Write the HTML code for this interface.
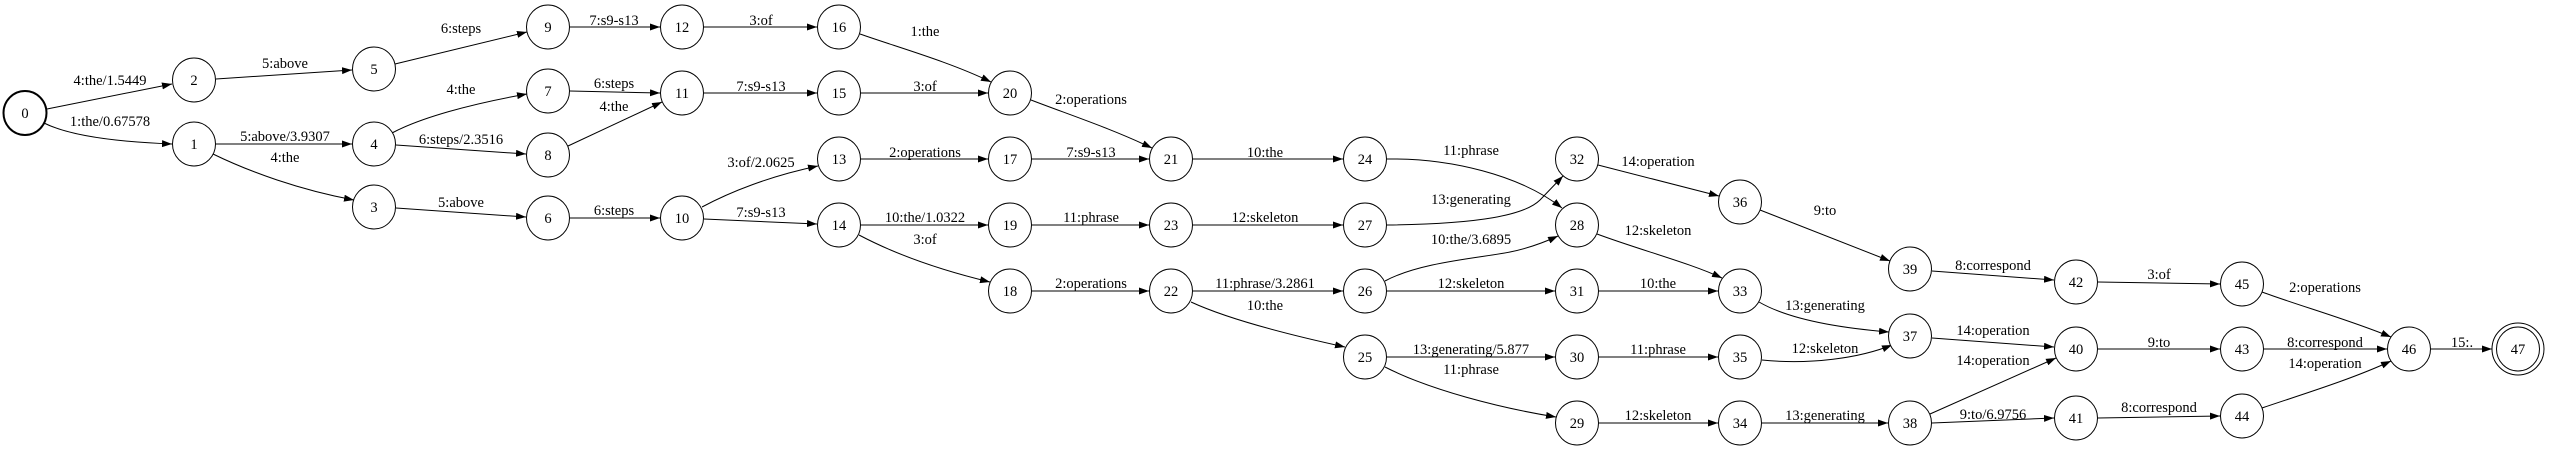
<!DOCTYPE html>
<html><head><meta charset="utf-8"><style>
html,body{margin:0;padding:0;background:#fff;}
svg{display:block;}
text{font-family:"Liberation Serif",serif;font-size:14.5px;fill:#000;}
.n text{text-anchor:middle;}
.l{text-anchor:middle;}
</style></head><body>
<svg width="2550" height="450" viewBox="0 0 2550 450" xmlns="http://www.w3.org/2000/svg">
<defs><marker id="a" markerUnits="userSpaceOnUse" markerWidth="11" markerHeight="8" refX="10" refY="3.5" orient="auto"><path d="M0,0 L10,3.5 L0,7 z" fill="#000"/></marker></defs>
<g fill="none" stroke="#000" stroke-width="1" marker-end="url(#a)">
<path d="M47,109 L172,84"/>
<path d="M44,123 C70,136 120,142 172,144"/>
<path d="M216,79 L352,70"/>
<path d="M216,144 L352,144"/>
<path d="M213,154 C250,172 300,190 354,200"/>
<path d="M395,64 L527,32"/>
<path d="M392,133 C420,118 470,104 527,94"/>
<path d="M396,145 L526,154"/>
<path d="M396,208 L526,217"/>
<path d="M570,27 L660,27"/>
<path d="M570,91 L660,93"/>
<path d="M568,146 L662,102"/>
<path d="M570,218 L660,218"/>
<path d="M704,27 L817,27"/>
<path d="M704,93 L817,93"/>
<path d="M860,34 C900,48 950,62 991,82"/>
<path d="M861,93 L988,93"/>
<path d="M1031,100 C1070,115 1110,128 1152,148"/>
<path d="M702,207 C730,192 770,176 818,166"/>
<path d="M704,219 L817,224"/>
<path d="M861,159 L988,159"/>
<path d="M1032,159 L1149,159"/>
<path d="M861,225 L988,225"/>
<path d="M859,235 C895,254 940,270 990,282"/>
<path d="M1032,225 L1149,225"/>
<path d="M1032,291 L1149,291"/>
<path d="M1193,159 L1343,159"/>
<path d="M1193,225 L1343,225"/>
<path d="M1193,291 L1343,291"/>
<path d="M1191,302 C1230,320 1290,335 1345,347"/>
<path d="M1387,159 C1450,158 1520,175 1562,208"/>
<path d="M1387,225 C1480,224 1525,215 1540,200 L1563,176"/>
<path d="M1385,281 C1420,262 1480,258 1510,252 C1530,248 1545,242 1558,236"/>
<path d="M1387,291 L1555,291"/>
<path d="M1387,357 L1555,357"/>
<path d="M1385,367 C1430,390 1500,408 1556,417"/>
<path d="M1598,165 L1719,196"/>
<path d="M1597,234 C1640,250 1690,263 1722,278"/>
<path d="M1599,291 L1718,291"/>
<path d="M1599,357 L1718,357"/>
<path d="M1599,423 L1718,423"/>
<path d="M1760,210 L1890,261"/>
<path d="M1759,302 C1790,320 1840,328 1889,332"/>
<path d="M1762,360 C1810,365 1860,358 1892,345"/>
<path d="M1762,423 L1888,423"/>
<path d="M1932,271 L2054,280"/>
<path d="M1932,338 L2054,347"/>
<path d="M1930,414 L2056,358"/>
<path d="M1932,423 L2054,418"/>
<path d="M2098,282 L2220,284"/>
<path d="M2098,349 L2220,349"/>
<path d="M2098,418 L2220,416"/>
<path d="M2262,292 C2300,306 2350,320 2391,337"/>
<path d="M2264,349 L2387,349"/>
<path d="M2262,408 C2300,395 2350,380 2391,361"/>
<path d="M2431,349 L2492,349"/>
</g>
<g class="lbls">
<text class="l" x="110" y="85">4:the/1.5449</text>
<text class="l" x="110" y="126">1:the/0.67578</text>
<text class="l" x="285" y="68">5:above</text>
<text class="l" x="285" y="141">5:above/3.9307</text>
<text class="l" x="285" y="162">4:the</text>
<text class="l" x="461" y="33">6:steps</text>
<text class="l" x="461" y="94">4:the</text>
<text class="l" x="461" y="144">6:steps/2.3516</text>
<text class="l" x="461" y="207">5:above</text>
<text class="l" x="614" y="25">7:s9-s13</text>
<text class="l" x="614" y="88">6:steps</text>
<text class="l" x="614" y="111">4:the</text>
<text class="l" x="614" y="215">6:steps</text>
<text class="l" x="761" y="25">3:of</text>
<text class="l" x="925" y="36">1:the</text>
<text class="l" x="761" y="91">7:s9-s13</text>
<text class="l" x="925" y="91">3:of</text>
<text class="l" x="1091" y="104">2:operations</text>
<text class="l" x="761" y="167">3:of/2.0625</text>
<text class="l" x="925" y="157">2:operations</text>
<text class="l" x="1091" y="157">7:s9-s13</text>
<text class="l" x="761" y="217">7:s9-s13</text>
<text class="l" x="925" y="222">10:the/1.0322</text>
<text class="l" x="925" y="244">3:of</text>
<text class="l" x="1091" y="222">11:phrase</text>
<text class="l" x="1091" y="288">2:operations</text>
<text class="l" x="1265" y="157">10:the</text>
<text class="l" x="1265" y="222">12:skeleton</text>
<text class="l" x="1265" y="288">11:phrase/3.2861</text>
<text class="l" x="1265" y="310">10:the</text>
<text class="l" x="1471" y="155">11:phrase</text>
<text class="l" x="1471" y="204">13:generating</text>
<text class="l" x="1471" y="244">10:the/3.6895</text>
<text class="l" x="1471" y="288">12:skeleton</text>
<text class="l" x="1471" y="354">13:generating/5.877</text>
<text class="l" x="1471" y="374">11:phrase</text>
<text class="l" x="1658" y="166">14:operation</text>
<text class="l" x="1658" y="235">12:skeleton</text>
<text class="l" x="1658" y="288">10:the</text>
<text class="l" x="1658" y="354">11:phrase</text>
<text class="l" x="1658" y="420">12:skeleton</text>
<text class="l" x="1825" y="215">9:to</text>
<text class="l" x="1825" y="310">13:generating</text>
<text class="l" x="1825" y="353">12:skeleton</text>
<text class="l" x="1825" y="420">13:generating</text>
<text class="l" x="1993" y="270">8:correspond</text>
<text class="l" x="1993" y="335">14:operation</text>
<text class="l" x="1993" y="365">14:operation</text>
<text class="l" x="1993" y="419">9:to/6.9756</text>
<text class="l" x="2159" y="279">3:of</text>
<text class="l" x="2159" y="347">9:to</text>
<text class="l" x="2159" y="412">8:correspond</text>
<text class="l" x="2325" y="292">2:operations</text>
<text class="l" x="2325" y="347">8:correspond</text>
<text class="l" x="2325" y="368">14:operation</text>
<text class="l" x="2462" y="347">15:.</text>
</g>
<g class="n" fill="#fff" stroke="#000">
<ellipse cx="25" cy="113" rx="21.5" ry="22" stroke-width="2"/>
<ellipse cx="194" cy="80" rx="21.5" ry="22"/>
<ellipse cx="194" cy="144" rx="21.5" ry="22"/>
<ellipse cx="374" cy="69" rx="21.5" ry="22"/>
<ellipse cx="374" cy="144" rx="21.5" ry="22"/>
<ellipse cx="374" cy="207" rx="21.5" ry="22"/>
<ellipse cx="548" cy="27" rx="21.5" ry="22"/>
<ellipse cx="548" cy="91" rx="21.5" ry="22"/>
<ellipse cx="548" cy="155" rx="21.5" ry="22"/>
<ellipse cx="548" cy="218" rx="21.5" ry="22"/>
<ellipse cx="682" cy="27" rx="21.5" ry="22"/>
<ellipse cx="839" cy="27" rx="21.5" ry="22"/>
<ellipse cx="682" cy="93" rx="21.5" ry="22"/>
<ellipse cx="839" cy="93" rx="21.5" ry="22"/>
<ellipse cx="1010" cy="93" rx="21.5" ry="22"/>
<ellipse cx="839" cy="159" rx="21.5" ry="22"/>
<ellipse cx="1010" cy="159" rx="21.5" ry="22"/>
<ellipse cx="1171" cy="159" rx="21.5" ry="22"/>
<ellipse cx="682" cy="218" rx="21.5" ry="22"/>
<ellipse cx="839" cy="225" rx="21.5" ry="22"/>
<ellipse cx="1010" cy="225" rx="21.5" ry="22"/>
<ellipse cx="1171" cy="225" rx="21.5" ry="22"/>
<ellipse cx="1010" cy="291" rx="21.5" ry="22"/>
<ellipse cx="1171" cy="291" rx="21.5" ry="22"/>
<ellipse cx="1365" cy="159" rx="21.5" ry="22"/>
<ellipse cx="1365" cy="225" rx="21.5" ry="22"/>
<ellipse cx="1365" cy="291" rx="21.5" ry="22"/>
<ellipse cx="1365" cy="357" rx="21.5" ry="22"/>
<ellipse cx="1577" cy="159" rx="21.5" ry="22"/>
<ellipse cx="1577" cy="225" rx="21.5" ry="22"/>
<ellipse cx="1577" cy="291" rx="21.5" ry="22"/>
<ellipse cx="1577" cy="357" rx="21.5" ry="22"/>
<ellipse cx="1577" cy="423" rx="21.5" ry="22"/>
<ellipse cx="1740" cy="202" rx="21.5" ry="22"/>
<ellipse cx="1740" cy="291" rx="21.5" ry="22"/>
<ellipse cx="1740" cy="357" rx="21.5" ry="22"/>
<ellipse cx="1740" cy="423" rx="21.5" ry="22"/>
<ellipse cx="1910" cy="269" rx="21.5" ry="22"/>
<ellipse cx="1910" cy="336" rx="21.5" ry="22"/>
<ellipse cx="1910" cy="423" rx="21.5" ry="22"/>
<ellipse cx="2076" cy="282" rx="21.5" ry="22"/>
<ellipse cx="2076" cy="349" rx="21.5" ry="22"/>
<ellipse cx="2076" cy="418" rx="21.5" ry="22"/>
<ellipse cx="2242" cy="284" rx="21.5" ry="22"/>
<ellipse cx="2242" cy="349" rx="21.5" ry="22"/>
<ellipse cx="2242" cy="416" rx="21.5" ry="22"/>
<ellipse cx="2409" cy="349" rx="21.5" ry="22"/>
<ellipse cx="2518" cy="349" rx="26" ry="26"/>
<ellipse cx="2518" cy="349" rx="21.5" ry="22"/>
</g>
<g class="n">
<text x="25" y="118">0</text>
<text x="194" y="85">2</text>
<text x="194" y="149">1</text>
<text x="374" y="74">5</text>
<text x="374" y="149">4</text>
<text x="374" y="212">3</text>
<text x="548" y="32">9</text>
<text x="548" y="96">7</text>
<text x="548" y="160">8</text>
<text x="548" y="223">6</text>
<text x="682" y="32">12</text>
<text x="839" y="32">16</text>
<text x="682" y="98">11</text>
<text x="839" y="98">15</text>
<text x="1010" y="98">20</text>
<text x="839" y="164">13</text>
<text x="1010" y="164">17</text>
<text x="1171" y="164">21</text>
<text x="682" y="223">10</text>
<text x="839" y="230">14</text>
<text x="1010" y="230">19</text>
<text x="1171" y="230">23</text>
<text x="1010" y="296">18</text>
<text x="1171" y="296">22</text>
<text x="1365" y="164">24</text>
<text x="1365" y="230">27</text>
<text x="1365" y="296">26</text>
<text x="1365" y="362">25</text>
<text x="1577" y="164">32</text>
<text x="1577" y="230">28</text>
<text x="1577" y="296">31</text>
<text x="1577" y="362">30</text>
<text x="1577" y="428">29</text>
<text x="1740" y="207">36</text>
<text x="1740" y="296">33</text>
<text x="1740" y="362">35</text>
<text x="1740" y="428">34</text>
<text x="1910" y="274">39</text>
<text x="1910" y="341">37</text>
<text x="1910" y="428">38</text>
<text x="2076" y="287">42</text>
<text x="2076" y="354">40</text>
<text x="2076" y="423">41</text>
<text x="2242" y="289">45</text>
<text x="2242" y="354">43</text>
<text x="2242" y="421">44</text>
<text x="2409" y="354">46</text>
<text x="2518" y="354">47</text>
</g>
</svg>
</body></html>
